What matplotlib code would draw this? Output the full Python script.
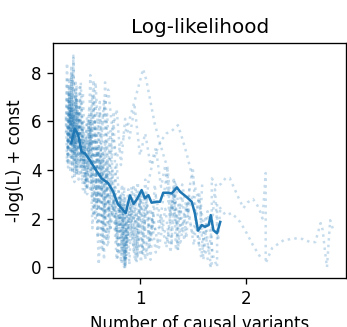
import matplotlib
matplotlib.use("Agg")
import matplotlib.pyplot as plt

# ---- data ----
mean_x = [0.35, 0.384, 0.415, 0.447, 0.48, 0.526, 0.59, 0.637, 0.70, 0.747, 0.79, 0.84, 0.865,
          0.905, 0.94, 0.97, 1.016, 1.047, 1.08, 1.11, 1.16, 1.19, 1.22, 1.27, 1.30, 1.35, 1.38,
          1.44, 1.49, 1.52, 1.55, 1.585, 1.616, 1.65, 1.67, 1.695, 1.73, 1.76]
mean_y = [5.1, 5.7, 5.45, 4.75, 4.68, 4.4, 3.95, 3.65, 3.45, 3.1, 2.6, 2.35, 2.22,
          2.95, 2.6, 2.78, 3.17, 2.83, 2.96, 2.65, 2.69, 2.69, 3.06, 3.06, 3.03, 3.28, 3.1,
          2.89, 2.69, 2.21, 1.5, 1.73, 1.66, 1.73, 2.14, 1.52, 1.39, 1.86]

run01_x = [0.30, 0.31, 0.32, 0.33, 0.34, 0.35, 0.36, 0.37, 0.38, 0.39, 0.40, 0.42, 0.44, 0.46, 0.48,
           0.52, 0.55, 0.57, 0.60, 0.62, 0.65, 0.68, 0.72, 0.76, 0.79, 0.81, 0.83, 0.84, 0.85, 0.86, 0.87]
run01_y = [5.5, 8.4, 4.8, 7.2, 5.9, 8.0, 4.6, 6.8, 5.2, 7.7, 4.3, 6.4, 3.9, 5.6, 4.2,
           6.1, 2.8, 5.4, 1.2, 4.6, 0.6, 3.9, 1.5, 3.2, 0.4, 2.9, 0.1, 2.5, 0.0, 1.8, 0.9]

run02_x = [0.31, 0.32, 0.33, 0.34, 0.35, 0.36, 0.37, 0.38, 0.39, 0.40, 0.41, 0.43, 0.45, 0.47, 0.50,
           0.53, 0.55, 0.58, 0.61, 0.63, 0.66, 0.68, 0.70, 0.72]
run02_y = [6.9, 4.1, 7.8, 5.3, 6.6, 4.0, 8.6, 5.1, 7.0, 3.9, 6.1, 7.4, 3.6, 5.2, 3.0,
           7.9, 3.4, 6.8, 1.9, 5.0, 0.3, 4.4, 1.0, 2.6]

run03_x = [0.32, 0.33, 0.34, 0.35, 0.36, 0.37, 0.38, 0.40, 0.42, 0.44, 0.47, 0.50, 0.54, 0.58, 0.62,
           0.66, 0.70, 0.74, 0.78, 0.83, 0.89, 0.96, 1.03, 1.06, 1.10, 1.14, 1.19, 1.23, 1.26, 1.30,
           1.33, 1.36, 1.40, 1.44, 1.47]
run03_y = [4.6, 7.3, 5.8, 8.3, 5.0, 6.4, 4.4, 6.9, 5.4, 7.6, 4.1, 6.2, 5.0, 7.6, 4.2,
           6.9, 3.6, 5.5, 4.5, 5.2, 5.9, 7.0, 8.15, 7.7, 6.8, 5.9, 5.1, 4.5, 4.1, 2.3,
           3.5, 0.7, 2.9, 1.2, 3.3]

run04_x = [0.30, 0.31, 0.33, 0.34, 0.36, 0.38, 0.40, 0.43, 0.46, 0.50, 0.54, 0.57, 0.60, 0.64, 0.68,
           0.72, 0.76, 0.80, 0.84, 0.88, 0.92, 0.96, 1.00, 1.04, 1.08, 1.12, 1.16, 1.20, 1.25, 1.30,
           1.36, 1.40, 1.44, 1.48, 1.52, 1.56, 1.60, 1.63, 1.66, 1.67]
run04_y = [6.2, 4.3, 7.5, 5.0, 6.6, 3.5, 5.7, 4.2, 6.0, 3.3, 6.4, 2.2, 4.9, 0.8, 3.8,
           1.6, 3.0, 0.5, 2.7, 1.0, 3.3, 0.9, 3.0, 1.6, 3.5, 4.3, 4.8, 5.2, 5.5, 5.6,
           5.84, 5.3, 4.7, 4.0, 3.3, 2.7, 1.9, 1.1, 0.5, 0.0]

run05_x = [0.33, 0.35, 0.37, 0.40, 0.44, 0.48, 0.53, 0.58, 0.63, 0.68, 0.73, 0.78, 0.82, 0.86, 0.90,
           0.95, 1.00, 1.05, 1.10, 1.15, 1.20, 1.26, 1.32, 1.38, 1.44, 1.50, 1.56, 1.61, 1.65, 1.68,
           1.68, 1.73, 1.77, 1.81, 1.85, 1.93, 1.98, 2.02, 2.07, 2.11, 2.14, 2.16, 2.19, 2.19, 2.25,
           2.36, 2.49, 2.545, 2.61, 2.66, 2.71, 2.73, 2.75, 2.77, 2.80, 2.83]
run05_y = [7.0, 4.5, 6.3, 3.8, 5.9, 3.4, 5.6, 2.0, 4.3, 1.1, 3.6, 0.3, 2.8, 0.0, 2.2,
           0.4, 2.9, 0.3, 2.4, 0.6, 2.1, 1.0, 3.2, 0.9, 2.6, 1.3, 2.9, 0.8, 0.2, 0.0,
           3.65, 3.3, 3.44, 3.66, 3.66, 2.88, 2.43, 2.67, 2.8, 2.55, 2.26, 2.0, 3.87, 0.16, 0.78,
           1.11, 1.19, 1.15, 1.03, 1.03, 1.81, 1.52, 0.7, 0.0, 1.93, 1.52]

run06_x = [0.34, 0.36, 0.38, 0.41, 0.45, 0.49, 0.53, 0.57, 0.61, 0.65, 0.69, 0.74, 0.79, 0.83, 0.86,
           0.91, 0.96, 1.02, 1.07, 1.12, 1.18, 1.24, 1.29, 1.34, 1.39, 1.45, 1.51, 1.56, 1.60, 1.64,
           1.69, 1.73, 1.73, 1.81, 1.87, 1.95, 2.01, 2.07, 2.14]
run06_y = [5.4, 7.9, 4.7, 6.5, 4.0, 5.3, 3.1, 6.0, 2.5, 4.7, 0.9, 2.7, 1.3, 3.4, 0.2,
           2.5, 0.3, 3.1, 0.5, 2.0, 0.8, 2.4, 0.6, 3.4, 1.5, 2.6, 0.9, 3.1, 0.3, 2.3,
           0.5, 0.0, 2.6, 2.14, 2.22, 1.85, 1.4, 0.9, 0.41]

run07_x = [0.30, 0.31, 0.32, 0.33, 0.34, 0.35, 0.36, 0.37, 0.38, 0.39, 0.40, 0.41, 0.42, 0.44, 0.46,
           0.48, 0.50, 0.53, 0.56, 0.59, 0.62, 0.65, 0.67, 0.70, 0.74, 0.78, 0.80, 0.82, 0.84, 0.85,
           0.86, 0.87, 0.88, 0.90, 0.92, 0.94, 0.96, 0.98, 1.00]
run07_y = [6.0, 7.7, 5.1, 6.4, 4.7, 7.1, 5.8, 8.7, 6.2, 4.9, 7.5, 5.3, 6.7, 4.5, 7.2,
           4.7, 6.0, 3.7, 7.7, 2.6, 6.4, 1.4, 5.2, 2.2, 4.0, 1.0, 3.1, 0.2, 2.2, 0.0,
           2.9, 0.3, 1.9, 0.1, 2.6, 0.7, 3.2, 0.4, 1.8]

run08_x = [0.31, 0.32, 0.33, 0.34, 0.35, 0.36, 0.37, 0.38, 0.39, 0.40, 0.42, 0.44, 0.46, 0.49, 0.52,
           0.55, 0.58, 0.61, 0.64, 0.67, 0.71, 0.75, 0.78, 0.81, 0.83, 0.85, 0.86, 0.88, 0.91, 0.94,
           0.97, 1.00, 1.03, 1.06, 1.09, 1.12, 1.15]
run08_y = [5.8, 4.2, 6.9, 3.9, 7.8, 5.4, 6.2, 3.9, 5.5, 7.0, 4.8, 6.1, 3.2, 4.4, 6.6,
           1.6, 4.2, 0.1, 3.0, 7.6, 2.3, 6.4, 1.6, 2.9, 0.6, 3.3, 0.0, 2.4, 1.1, 3.4,
           0.2, 2.8, 0.5, 3.0, 0.9, 2.3, 1.4]

run09_x = [0.35, 0.37, 0.39, 0.42, 0.45, 0.49, 0.53, 0.57, 0.62, 0.67, 0.72, 0.77, 0.82, 0.86, 0.90,
           0.94, 0.98, 1.02, 1.06, 1.10, 1.14, 1.18, 1.22, 1.26, 1.30, 1.32, 1.34, 1.38, 1.42, 1.46,
           1.50, 1.53, 1.56, 1.59]
run09_y = [6.6, 4.4, 7.3, 3.6, 5.2, 3.5, 5.9, 3.9, 6.8, 2.0, 5.6, 1.4, 3.0, 0.1, 2.7,
           1.9, 3.5, 0.6, 2.6, 0.3, 3.4, 1.6, 2.8, 4.0, 0.9, 3.7, 0.7, 2.5, 1.1, 3.0,
           4.1, 2.0, 0.8, 3.5]

run10_x = [0.32, 0.34, 0.36, 0.38, 0.41, 0.44, 0.48, 0.52, 0.56, 0.60, 0.64, 0.69, 0.74, 0.78, 0.82,
           0.85, 0.89, 0.93, 0.97, 1.01, 1.05, 1.10, 1.15, 1.20, 1.25, 1.30, 1.35, 1.40, 1.45, 1.50,
           1.54, 1.58, 1.62, 1.65, 1.68, 1.71, 1.74, 1.76]
run10_y = [4.9, 6.5, 3.7, 5.5, 4.6, 6.9, 3.0, 5.1, 2.1, 4.8, 3.0, 6.3, 2.1, 4.3, 1.6,
           0.3, 3.2, 1.2, 2.2, 0.2, 3.6, 1.1, 2.9, 1.9, 0.8, 2.6, 1.7, 3.4, 2.2, 3.0,
           1.5, 0.4, 2.0, 0.6, 1.6, 3.2, 1.1, 2.4]

run11_x = [0.36, 0.40, 0.45, 0.50, 0.55, 0.60, 0.65, 0.70, 0.74, 0.78, 0.82, 0.86, 0.90, 0.95, 1.00,
           1.05, 1.10, 1.15, 1.20, 1.24, 1.28, 1.32, 1.36]
run11_y = [6.1, 3.8, 5.0, 3.2, 7.1, 4.6, 6.2, 7.3, 5.6, 6.5, 4.2, 6.1, 5.3, 6.6, 4.6,
           5.5, 4.2, 4.9, 3.3, 4.2, 2.1, 3.0, 0.7]

runs_x = [run01_x, run02_x, run03_x, run04_x, run05_x, run06_x, run07_x, run08_x, run09_x, run10_x, run11_x]
runs_y = [run01_y, run02_y, run03_y, run04_y, run05_y, run06_y, run07_y, run08_y, run09_y, run10_y, run11_y]

title = "Log-likelihood"
xlabel = "Number of causal variants"
ylabel = "-log(L) + const"
xticks = [1, 2]
yticks = [0, 2, 4, 6, 8]

# ---- figure ----
DPI = 120
fig = plt.figure(figsize=(347 / DPI, 327 / DPI), dpi=DPI)
ax = fig.add_axes([0.1536, 0.1489, 0.8435, 0.7196])

for xs, ys in zip(runs_x, runs_y):
    ax.plot(xs, ys, linestyle=":", color="C0", alpha=0.25, linewidth=1.5)
ax.plot(mean_x, mean_y, color="C0", linewidth=1.5)

ax.set_xlim(0.18, 2.95)
ax.set_ylim(-0.46, 9.22)
ax.set_xticks(xticks)
ax.set_yticks(yticks)
ax.set_title(title)
ax.set_xlabel(xlabel)
ax.set_ylabel(ylabel)

fig.savefig("out.png", dpi=DPI)
